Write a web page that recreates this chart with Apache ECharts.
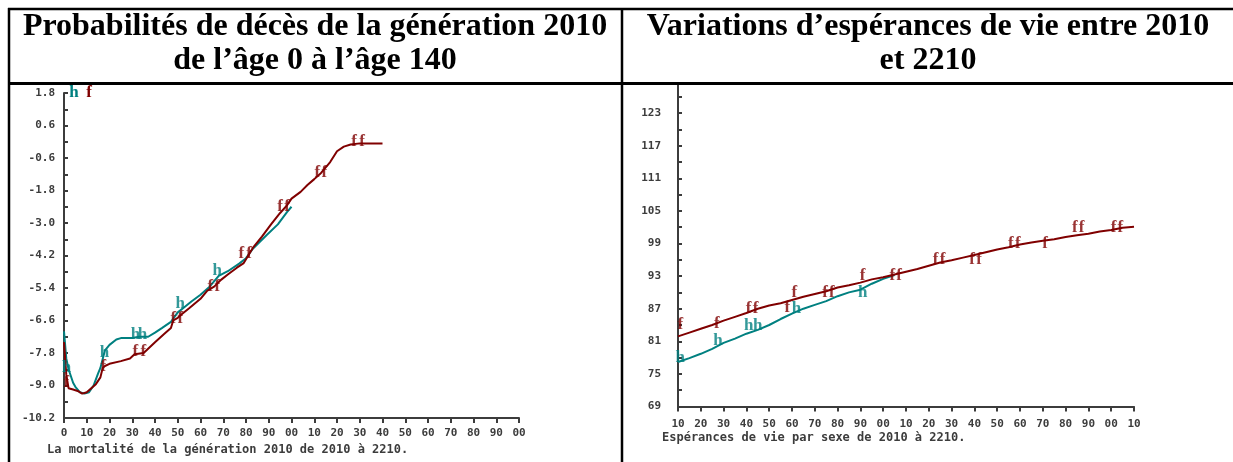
<!DOCTYPE html>
<html>
<head>
<meta charset="utf-8">
<script src="https://cdn.jsdelivr.net/npm/echarts/dist/echarts.min.js"></script>
<style>
html,body{margin:0;padding:0;background:#ffffff;}
#chart{width:1233px;height:462px;}
</style>
</head>
<body>
<div id="chart"></div>
<script>
// ---------- Left chart: log death probabilities, generation 2010 ----------
const femaleAges = [0,1,2,4,6,8,10,12,14,16,17,18,20,25,29,31,35,40,44,47,48,50,52,55,60,63,66,69,72,76,79,81,83,87,91,95,98,100,104,107,110,113,117,120,123,126,130,135,140];
const femaleLogQ = [-7.4,-8.6,-9.1,-9.15,-9.2,-9.3,-9.25,-9.1,-8.95,-8.7,-8.35,-8.28,-8.2,-8.1,-8.0,-7.85,-7.8,-7.4,-7.1,-6.88,-6.6,-6.5,-6.35,-6.15,-5.8,-5.5,-5.35,-5.1,-4.9,-4.65,-4.48,-4.2,-3.92,-3.5,-3.05,-2.63,-2.35,-2.1,-1.85,-1.6,-1.38,-1.15,-0.75,-0.35,-0.18,-0.1,-0.06,-0.06,-0.06];
const maleAges = [0,1,2,4,5,7,9,11,13,15,16,18,20,23,25,30,33,37,40,43,47,50,53,56,60,64,68,72,77,80,83,86,89,94,98,100];
const maleLogQ = [-7.0,-8.0,-8.4,-8.9,-9.05,-9.25,-9.3,-9.25,-9.0,-8.55,-8.35,-7.7,-7.5,-7.3,-7.25,-7.25,-7.2,-7.2,-7.05,-6.88,-6.65,-6.3,-6.1,-5.9,-5.65,-5.35,-4.95,-4.78,-4.5,-4.3,-3.95,-3.7,-3.45,-3.05,-2.6,-2.4];
// plot symbols ("f" femmes, "h" hommes) as printed on the curves
const femaleMarkAges = [1,17.3,31.4,34.9,48.1,51.1,64.3,67.4,77.9,81.4,95,98.1,111.3,114.4,127.5,131];
const femaleMarkVals = [-8.9,-8.3,-7.76,-7.76,-6.54,-6.54,-5.36,-5.36,-4.14,-4.14,-2.41,-2.41,-1.15,-1.15,-0.01,-0.01];
const maleMarkAges = [1.1,17.8,31.4,34.5,51.1,67.4];
const maleMarkVals = [-8.35,-7.8,-7.13,-7.13,-5.99,-4.77];

// ---------- Right chart: life expectancy 2010-2210 ----------
const years = [2010,2015,2020,2025,2030,2035,2040,2045,2050,2055,2060,2065,2070,2075,2080,2085,2090,2095,2100,2105,2110,2115,2120,2125,2130,2135,2140,2145,2150,2155,2160,2165,2170,2175,2180,2185,2190,2195,2200,2205,2210];
const femaleLE = [81.9,82.6,83.3,84.0,84.8,85.5,86.2,87.0,87.6,88.0,88.6,89.2,89.7,90.2,90.9,91.3,91.8,92.4,92.8,93.3,93.8,94.3,94.9,95.5,95.9,96.4,96.9,97.4,97.9,98.3,98.8,99.2,99.5,99.8,100.2,100.5,100.8,101.2,101.5,101.9,102.1];
const maleLE = [77.2,77.9,78.7,79.6,80.7,81.5,82.4,83.1,84.0,85.1,86.1,87.0,87.7,88.4,89.3,90.0,90.5,91.6,92.5,93.2];
const femaleLEMarkYears = [2011,2027,2041,2044,2058,2061,2074.5,2077.5,2091,2104,2107,2123,2126,2139,2142,2156,2159,2171,2184,2187,2201,2204];
const femaleLEMarkVals = [84.1,84.3,87.1,87.1,87.2,90.0,90.0,90.0,93.1,93.1,93.1,96.1,96.1,96.1,96.1,99.0,99.0,99.0,102.0,102.0,102.0,102.0];
const maleLEMarkYears = [2011,2027.5,2041,2045,2062,2091];
const maleLEMarkVals = [78.0,81.2,83.9,83.9,87.1,90.0];

// ---------- texts ----------
const leftTitle = ['Probabilités de décès de la génération 2010', 'de l\u2019âge 0 à l\u2019âge 140'];
const rightTitle = ['Variations d\u2019espérances de vie entre 2010', 'et 2210'];
const leftAxisTitle = 'La mortalité de la génération 2010 de 2010 à 2210.';
const rightAxisTitle = 'Espérances de vie par sexe de 2010 à 2210.';

const TEAL = '#008080';
const MAROON = '#800000';
const AXIS = '#3c3c3c';
const MONO = '"DejaVu Sans Mono", "Liberation Mono", monospace';
const SERIF = '"Liberation Serif", "Times New Roman", serif';

function pairs(xs, ys) { return ys.map((y, i) => [xs[i], y]); }

function xAxisCfg(gridIndex, min, max, margin) {
  return {
    type: 'value', gridIndex, min, max, interval: 10,
    axisLine: { show: true, onZero: false, lineStyle: { color: AXIS, width: 2 } },
    axisTick: { show: true, inside: false, length: 5, lineStyle: { color: AXIS, width: 2 } },
    axisLabel: {
      color: AXIS, fontFamily: MONO, fontWeight: 'bold', fontSize: 11, margin,
      formatter: v => (v === 0 ? '0' : String(v % 100).padStart(2, '0'))
    },
    splitLine: { show: false }
  };
}
function yAxisCfg(gridIndex, min, max, step, fmt, margin) {
  return {
    type: 'value', gridIndex, min, max, interval: step,
    axisLine: { show: true, onZero: false, lineStyle: { color: AXIS, width: 2 } },
    axisTick: { show: true, inside: true, length: 4, lineStyle: { color: AXIS, width: 2 } },
    axisLabel: {
      color: AXIS, fontFamily: MONO, fontWeight: 'bold', fontSize: 11, margin,
      formatter: v => (Math.round((v - min) / step) % 2 === 0 ? fmt(v) : '')
    },
    splitLine: { show: false }
  };
}
function lineSeries(xi, yi, data, color, z) {
  return {
    type: 'line', xAxisIndex: xi, yAxisIndex: yi, data, symbol: 'none', z,
    lineStyle: { color, width: 2 }, itemStyle: { color }, silent: true, smooth: false
  };
}
function markSeries(xi, yi, data, letter, color) {
  return {
    type: 'scatter', xAxisIndex: xi, yAxisIndex: yi, data, z: 5,
    symbol: 'circle', symbolSize: 1, itemStyle: { color: 'rgba(0,0,0,0)' }, silent: true,
    label: { show: true, position: 'inside', formatter: letter, color,
      fontFamily: SERIF, fontWeight: 'bold', fontSize: 17 }
  };
}
function txt(text, x, y, font, fill, align, z) {
  return { type: 'text', z: z || 110, x, y,
    style: { text, font, fill, align: align || 'left', textAlign: align || 'left',
      verticalAlign: 'middle', textVerticalAlign: 'middle' } };
}
function ln(x1, y1, x2, y2, w) {
  return { type: 'line', z: 120, shape: { x1, y1, x2, y2 }, style: { stroke: '#000', lineWidth: w } };
}

const chart = echarts.init(document.getElementById('chart'), null, { renderer: 'canvas' });
chart.setOption({
  animation: false,
  backgroundColor: '#ffffff',
  grid: [
    { left: 64, top: 93, width: 455, height: 325, containLabel: false, outerBoundsMode: 'none' },
    { left: 678, top: 80.5, width: 456, height: 326, containLabel: false, outerBoundsMode: 'none' }
  ],
  xAxis: [ xAxisCfg(0, 0, 200, 10), xAxisCfg(1, 2010, 2210, 12) ],
  yAxis: [
    yAxisCfg(0, -10.2, 1.8, 0.6, v => v.toFixed(1), 9),
    yAxisCfg(1, 69, 129, 3, v => String(Math.round(v)), 17)
  ],
  series: [
    lineSeries(0, 0, pairs(maleAges, maleLogQ), TEAL, 2),
    lineSeries(0, 0, pairs(femaleAges, femaleLogQ), MAROON, 3),
    markSeries(0, 0, pairs(maleMarkAges, maleMarkVals), 'h', TEAL),
    markSeries(0, 0, pairs(femaleMarkAges, femaleMarkVals), 'f', MAROON),
    lineSeries(1, 1, pairs(years, maleLE), TEAL, 2),
    lineSeries(1, 1, pairs(years, femaleLE), MAROON, 3),
    markSeries(1, 1, pairs(maleLEMarkYears, maleLEMarkVals), 'h', TEAL),
    markSeries(1, 1, pairs(femaleLEMarkYears, femaleLEMarkVals), 'f', MAROON)
  ],
  graphic: { elements: [
    // symbol keys printed at top of each plot
    txt('h', 74, 93, 'bold 17px ' + SERIF, TEAL, 'center', 50),
    txt('f', 89, 93, 'bold 17px ' + SERIF, MAROON, 'center', 50),
    txt('h', 687, 80, 'bold 17px ' + SERIF, TEAL, 'center', 50),
    txt('f', 702, 80, 'bold 17px ' + SERIF, MAROON, 'center', 50),
    // header cell background (clips the plot that runs under it)
    { type: 'rect', z: 100, shape: { x: 0, y: 0, width: 1233, height: 84 }, style: { fill: '#ffffff' } },
    // titles
    txt(leftTitle[0], 315, 27, 'bold 32px ' + SERIF, '#000', 'center'),
    txt(leftTitle[1], 315, 61, 'bold 32px ' + SERIF, '#000', 'center'),
    txt(rightTitle[0], 928, 27, 'bold 32px ' + SERIF, '#000', 'center'),
    txt(rightTitle[1], 928, 61, 'bold 32px ' + SERIF, '#000', 'center'),
    // axis captions
    txt(leftAxisTitle, 47, 450, 'bold 12px ' + MONO, AXIS, 'left'),
    txt(rightAxisTitle, 662, 438, 'bold 12px ' + MONO, AXIS, 'left'),
    // table rules
    ln(8, 9, 1233, 9, 2.5),
    ln(9, 8, 9, 462, 2.5),
    ln(8, 83.5, 1233, 83.5, 3),
    ln(622, 8, 622, 462, 2.5)
  ] }
});
</script>
</body>
</html>
